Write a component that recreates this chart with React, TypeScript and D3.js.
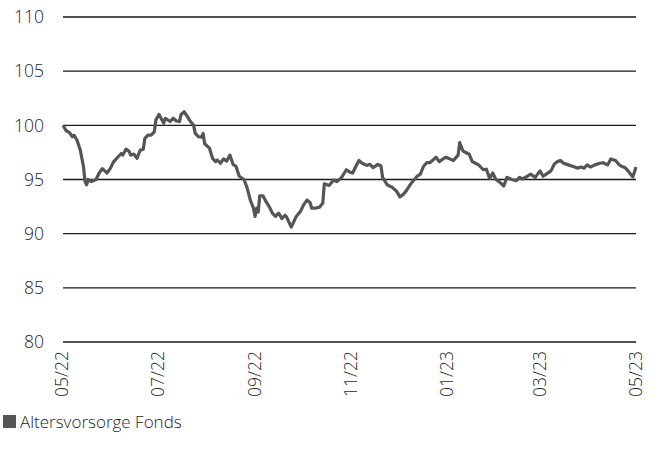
import React from "react";
import * as d3 from "d3";

// days since the first data point (2022-05-02) and the fund value on that day
const startDate = "2022-05-02";
const endDate = "2023-05-01";

const days = [
  0, 2, 4, 6, 7, 9, 11, 13, 14, 15, 16, 18, 21, 23, 25, 28, 30, 32, 35, 37,
  38, 40, 42, 43, 45, 47, 49, 51, 52, 54, 56, 58, 59, 61, 64, 65, 68, 70, 72, 74,
  75, 77, 79, 81, 83, 84, 86, 88, 89, 90, 93, 95, 97, 98, 100, 102, 104, 106, 108, 110,
  111, 112, 115, 117, 119, 121, 122, 123, 124, 125, 127, 129, 131, 133, 135, 137, 139, 141, 142, 145,
  146, 148, 151, 153, 155, 157, 158, 160, 163, 165, 166, 169, 172, 174, 177, 180, 182, 184, 186, 188,
  190, 193, 195, 197, 200, 202, 203, 206, 208, 209, 212, 214, 216, 218, 220, 222, 225, 227, 229, 231,
  233, 237, 239, 243, 245, 248, 251, 252, 254, 257, 258, 260, 262, 264, 267, 269, 271, 273, 275, 277,
  280, 282, 285, 288, 290, 292, 295, 297, 300, 303, 305, 307, 310, 312, 314, 316, 318, 321, 325, 327,
  329, 331, 333, 335, 338, 341, 343, 346, 348, 351, 353, 355, 357, 359, 361, 362, 363, 364,
];

const fundValues = [
  100.0, 99.5, 99.35, 98.95, 99.1, 98.6, 97.7, 96.2, 94.8, 94.5, 95.0, 94.8, 95.0, 95.6, 96.0, 95.6, 96.0, 96.6, 97.1, 97.4,
  97.25, 97.8, 97.6, 97.25, 97.35, 96.95, 97.7, 97.8, 98.8, 99.1, 99.1, 99.4, 100.5, 101.0, 100.2, 100.65, 100.35, 100.65, 100.4, 100.35,
  101.0, 101.25, 100.8, 100.35, 100.0, 99.25, 98.95, 98.9, 99.25, 98.3, 97.9, 96.95, 96.65, 96.8, 96.5, 96.9, 96.7, 97.25, 96.4, 96.2,
  95.7, 95.3, 95.0, 94.2, 93.1, 92.35, 91.6, 92.35, 92.0, 93.5, 93.5, 92.95, 92.5, 91.9, 91.6, 91.9, 91.4, 91.7, 91.55, 90.6,
  90.9, 91.55, 92.1, 92.7, 93.1, 92.85, 92.35, 92.35, 92.45, 92.8, 94.6, 94.45, 94.95, 94.8, 95.2, 95.9, 95.7, 95.6, 96.2, 96.75,
  96.5, 96.3, 96.4, 96.1, 96.4, 96.25, 95.2, 94.5, 94.35, 94.3, 93.9, 93.4, 93.6, 93.95, 94.4, 94.8, 95.3, 95.5, 96.2, 96.55,
  96.55, 97.05, 96.65, 97.05, 96.95, 96.75, 97.25, 98.4, 97.65, 97.4, 97.35, 96.65, 96.5, 96.35, 95.9, 95.95, 95.1, 95.6, 95.0, 94.8,
  94.4, 95.2, 95.0, 94.9, 95.2, 95.05, 95.3, 95.5, 95.2, 95.8, 95.3, 95.5, 95.8, 96.4, 96.65, 96.75, 96.5, 96.35, 96.15, 96.05,
  96.15, 96.05, 96.35, 96.15, 96.35, 96.5, 96.55, 96.35, 96.9, 96.75, 96.4, 96.2, 96.1, 95.8, 95.4, 95.25, 95.7, 96.15,
];

const yTicks = [80, 85, 90, 95, 100, 105, 110];
const xTickDates = ["2022-05-01", "2022-07-01", "2022-09-01", "2022-11-01", "2023-01-01", "2023-03-01", "2023-05-01"];
const xTickLabels = ["05/22", "07/22", "09/22", "11/22", "01/23", "03/23", "05/23"];
const seriesName = "Altersvorsorge Fonds";

const width = 654;
const height = 459;
const left = 63;
const right = 636;
const top = 17;
const bottom = 342;

const font = "'Open Sans', 'Noto Sans', sans-serif";

export default function App() {
  const parse = d3.timeParse("%Y-%m-%d");
  const start = parse(startDate) as Date;

  const x = d3.scaleTime().domain([start, parse(endDate) as Date]).range([left, right]);
  const y = d3.scaleLinear().domain([80, 110]).range([bottom, top]);

  const data = days.map((d, i) => ({ date: d3.timeDay.offset(start, d), value: fundValues[i] }));

  const line = d3
    .line<{ date: Date; value: number }>()
    .x((d) => x(d.date))
    .y((d) => y(d.value));

  return (
    <svg
      width={width}
      height={height}
      style={{ position: "absolute", left: 0, top: 0, background: "#fff" }}
      fontFamily={font}
    >
      {yTicks.map((t) => (
        <g key={t}>
          <line x1={left} x2={right} y1={y(t)} y2={y(t)} stroke="#1a1a1a" strokeWidth={1.3} />
          <text x={44} y={y(t)} dy="0.36em" textAnchor="end" fontSize={17.5} fontWeight={300} fill="#1e1e1e">
            {t}
          </text>
        </g>
      ))}

      {xTickDates.map((d, i) => {
        const px = x(parse(d) as Date);
        return (
          <text
            key={d}
            transform={`translate(${px},${351}) rotate(-90)`}
            dy="0.36em"
            textAnchor="end"
            fontSize={17.5}
            fontWeight={300}
            fill="#1e1e1e"
          >
            {xTickLabels[i]}
          </text>
        );
      })}

      <path d={line(data) ?? ""} fill="none" stroke="#555" strokeWidth={3.2} strokeLinejoin="round" />

      <rect x={3} y={415} width={13} height={13} fill="#555" />
      <text x={20} y={428} fontSize={17} fontWeight={300} fill="#1e1e1e">
        {seriesName}
      </text>
    </svg>
  );
}
